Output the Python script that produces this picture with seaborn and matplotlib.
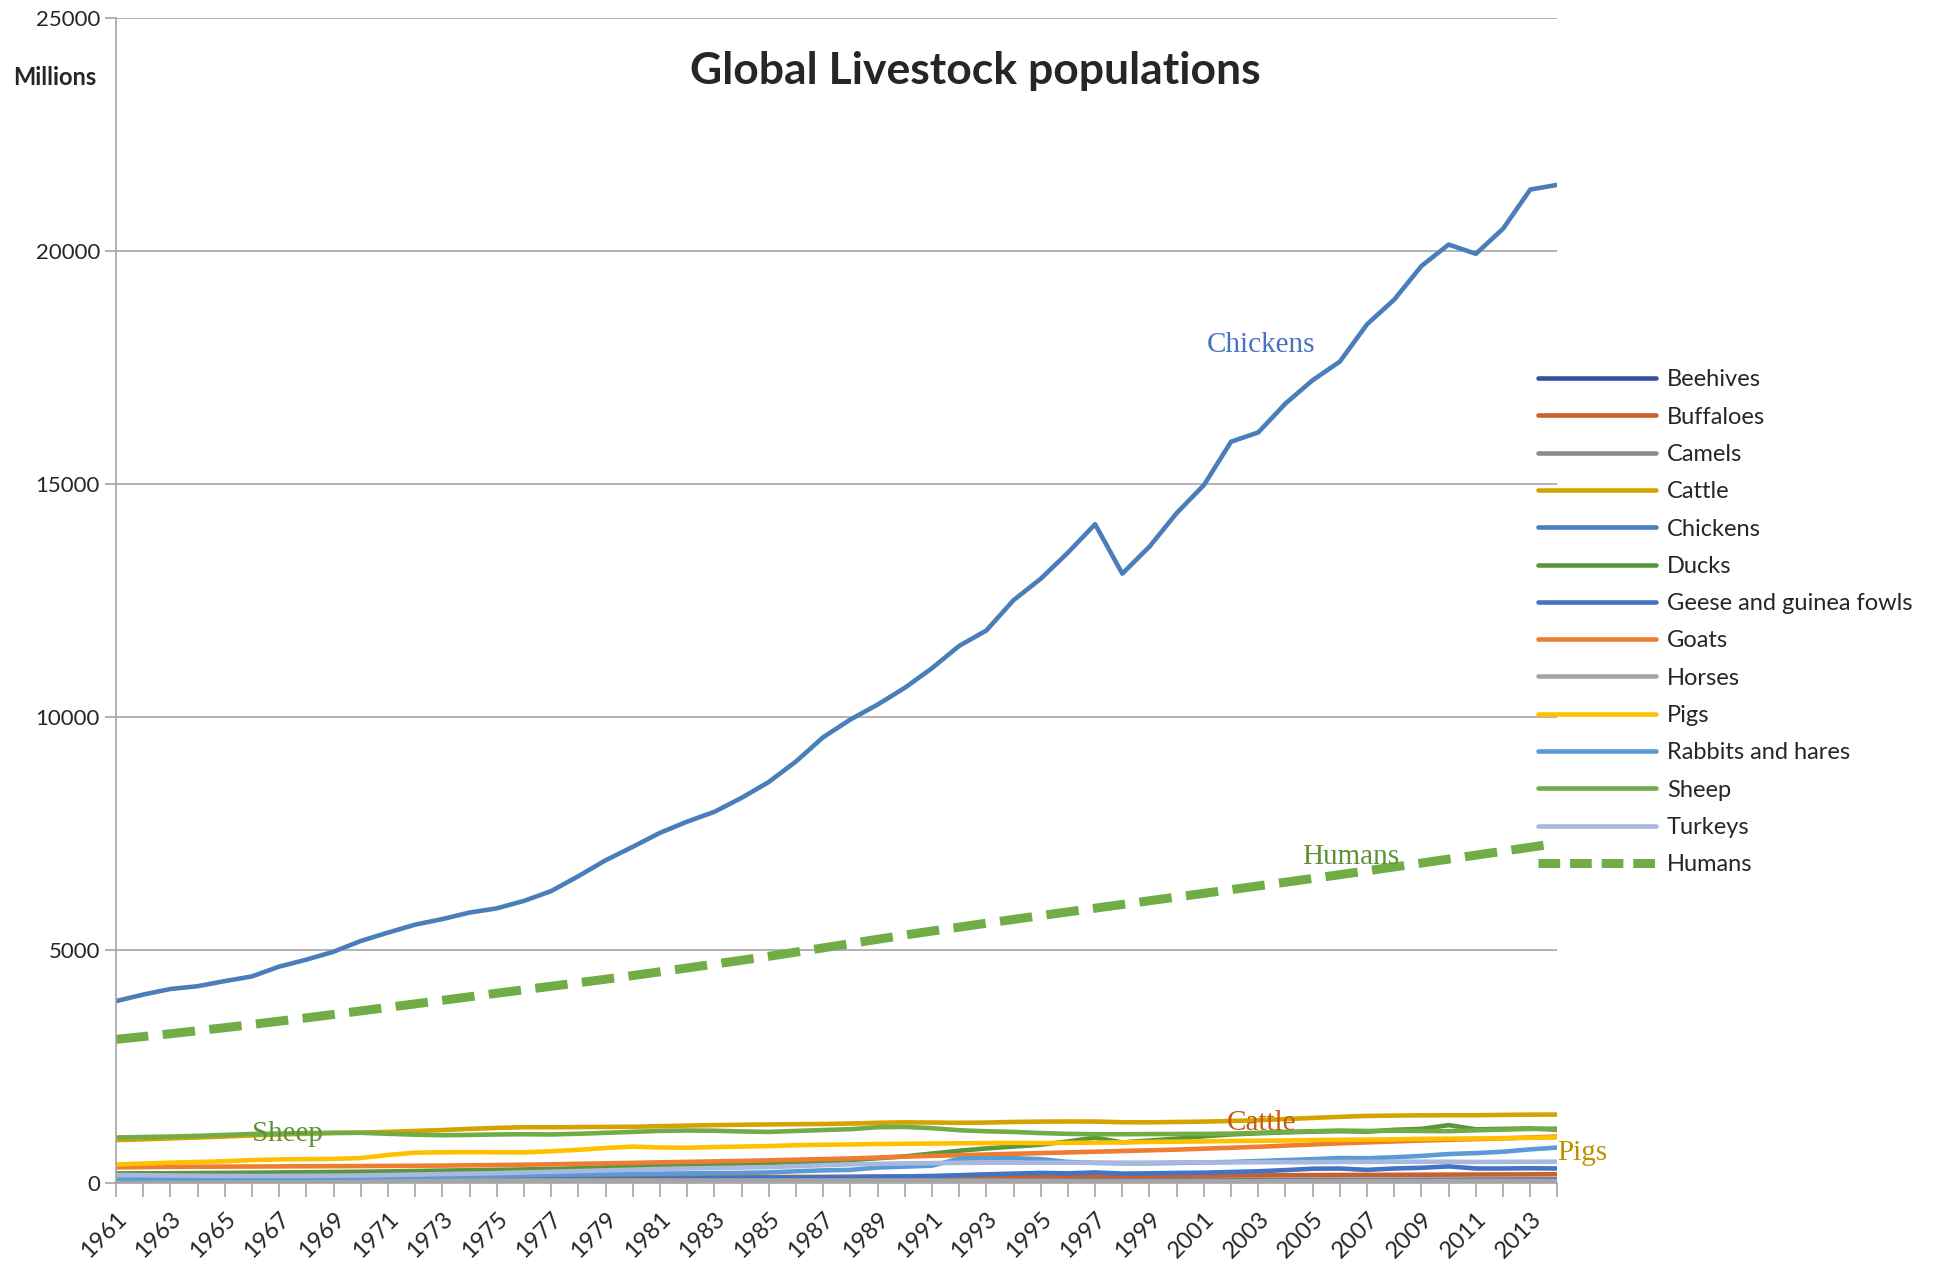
import matplotlib
matplotlib.use("Agg")
import matplotlib.pyplot as plt
import pandas as pd
import seaborn as sns

years = list(range(1961, 2015))

chickens = [3910, 4050, 4170, 4230, 4340, 4440, 4650, 4800, 4970, 5200,
            5380, 5550, 5670, 5810, 5900, 6060, 6270, 6590, 6930, 7220,
            7520, 7760, 7970, 8270, 8610, 9050, 9570, 9950, 10270, 10630,
            11050, 11530, 11860, 12510, 12970, 13530, 14140, 13080, 13660, 14380,
            14980, 15910, 16110, 16730, 17230, 17630, 18430, 18960, 19680, 20140,
            19940, 20480, 21320, 21420]
humans = [3090, 3150, 3210, 3275, 3340, 3410, 3480, 3550, 3625, 3700,
          3776, 3851, 3927, 4003, 4079, 4154, 4229, 4303, 4380, 4458,
          4539, 4621, 4704, 4787, 4871, 4961, 5052, 5144, 5236, 5327,
          5413, 5497, 5581, 5663, 5744, 5824, 5904, 5984, 6064, 6143,
          6222, 6301, 6381, 6461, 6542, 6623, 6705, 6789, 6872, 6957,
          7041, 7126, 7211, 7295]
cattle = [930, 945, 965, 985, 1005, 1030, 1050, 1065, 1080, 1090,
          1105, 1125, 1145, 1170, 1190, 1205, 1205, 1208, 1212, 1215,
          1228, 1240, 1250, 1258, 1265, 1270, 1275, 1284, 1300, 1310,
          1305, 1300, 1305, 1318, 1325, 1328, 1327, 1312, 1310, 1318,
          1325, 1340, 1355, 1380, 1405, 1428, 1448, 1455, 1460, 1462,
          1462, 1470, 1475, 1477]
sheep = [985, 995, 1005, 1020, 1040, 1060, 1070, 1080, 1085, 1085,
         1065, 1045, 1034, 1040, 1050, 1055, 1050, 1065, 1085, 1105,
         1127, 1135, 1130, 1115, 1105, 1125, 1145, 1163, 1205, 1213,
         1185, 1141, 1118, 1105, 1080, 1063, 1055, 1055, 1058, 1060,
         1062, 1068, 1084, 1105, 1120, 1134, 1125, 1130, 1125, 1120,
         1140, 1155, 1168, 1177]
pigs = [406, 425, 445, 460, 475, 500, 515, 520, 525, 545,
        610, 660, 668, 670, 668, 665, 690, 720, 760, 790,
        770, 765, 780, 790, 800, 820, 830, 835, 845, 850,
        855, 860, 865, 870, 865, 870, 875, 880, 890, 895,
        900, 910, 915, 920, 930, 935, 940, 945, 955, 960,
        965, 970, 978, 985]
goats = [345, 350, 355, 358, 360, 362, 365, 367, 370, 372,
         375, 378, 382, 388, 395, 402, 410, 420, 430, 440,
         452, 462, 472, 482, 495, 508, 522, 535, 555, 575,
         590, 605, 620, 635, 650, 665, 680, 695, 710, 725,
         745, 765, 785, 810, 835, 860, 880, 900, 920, 935,
         950, 965, 985, 1005]
ducks = [214, 216, 218, 222, 226, 230, 235, 240, 245, 250,
         258, 266, 275, 282, 290, 300, 310, 325, 345, 365,
         380, 395, 410, 425, 440, 455, 470, 500, 540, 580,
         640, 700, 750, 790, 830, 900, 980, 880, 920, 960,
         1010, 1050, 1075, 1095, 1110, 1120, 1110, 1150, 1170, 1250,
         1160, 1170, 1180, 1150]
rabbits = [107, 108, 110, 112, 115, 118, 120, 122, 125, 130,
           138, 145, 152, 160, 168, 175, 182, 190, 198, 205,
           210, 215, 220, 225, 235, 260, 280, 290, 340, 360,
           380, 530, 540, 540, 520, 460, 440, 430, 430, 440,
           450, 460, 480, 500, 520, 545, 540, 560, 590, 630,
           650, 680, 730, 770]
turkeys = [180, 175, 170, 165, 160, 160, 160, 162, 165, 170,
           180, 190, 200, 210, 220, 235, 250, 265, 280, 295,
           310, 320, 330, 340, 350, 370, 390, 410, 420, 430,
           435, 440, 445, 445, 445, 445, 445, 445, 445, 450,
           450, 450, 455, 455, 455, 460, 460, 465, 465, 465,
           460, 462, 464, 465]
geese = [40, 45, 48, 50, 52, 55, 58, 60, 62, 65,
         68, 70, 72, 75, 78, 80, 83, 86, 90, 95,
         100, 105, 110, 115, 120, 125, 130, 135, 145, 150,
         160, 175, 195, 210, 225, 215, 235, 210, 215, 225,
         230, 245, 260, 285, 315, 320, 290, 320, 335, 365,
         320, 320, 325, 320]
buffaloes = [88, 90, 92, 94, 96, 98, 100, 102, 104, 106,
             108, 110, 112, 114, 116, 118, 120, 122, 124, 126,
             128, 130, 132, 134, 136, 138, 140, 142, 144, 148,
             150, 152, 155, 157, 160, 162, 165, 160, 162, 165,
             167, 170, 172, 175, 178, 180, 182, 184, 186, 188,
             190, 192, 194, 196]
beehives = [49, 50, 51, 52, 53, 54, 55, 56, 57, 58,
            59, 60, 61, 62, 63, 64, 65, 66, 66, 67,
            67, 68, 68, 69, 69, 70, 70, 70, 71, 71,
            70, 69, 68, 68, 68, 69, 70, 70, 71, 71,
            72, 73, 74, 74, 75, 76, 76, 77, 78, 79,
            80, 81, 82, 83]
horses = [62, 62, 62, 63, 63, 63, 63, 62, 62, 62,
          62, 62, 62, 62, 62, 62, 61, 61, 61, 61,
          61, 61, 61, 61, 61, 61, 61, 61, 61, 61,
          61, 61, 60, 60, 59, 58, 57, 57, 57, 57,
          57, 57, 57, 57, 58, 58, 58, 58, 58, 59,
          59, 59, 59, 59]
camels = [13, 13, 13, 14, 14, 14, 14, 14, 15, 15,
          15, 15, 15, 16, 16, 16, 16, 16, 17, 17,
          17, 17, 17, 17, 17, 18, 18, 18, 18, 18,
          18, 18, 18, 19, 19, 19, 19, 19, 19, 19,
          20, 20, 20, 21, 21, 22, 23, 24, 25, 25,
          26, 26, 27, 27]

series_names = ["Beehives", "Buffaloes", "Camels", "Cattle", "Chickens", "Ducks",
                "Geese and guinea fowls", "Goats", "Horses", "Pigs",
                "Rabbits and hares", "Sheep", "Turkeys", "Humans"]
series_values = [beehives, buffaloes, camels, cattle, chickens, ducks,
                 geese, goats, horses, pigs, rabbits, sheep, turkeys, humans]
colours = ["#33509A", "#C8622A", "#8C8C8C", "#D4A300", "#4A7EBB", "#5A963A",
           "#4472C4", "#ED7D31", "#A5A5A5", "#FFC000", "#5B9BD5", "#70AD47",
           "#A9B8DF", "#70AD47"]

df = pd.DataFrame({"Year": years})
for name, vals in zip(series_names, series_values):
    df[name] = vals

sns.set_style("white")
plt.rcParams["font.family"] = ["Lato", "DejaVu Sans"]

fig = plt.figure(figsize=(19.42, 12.65), dpi=100)
ax = fig.add_axes([0.0597, 0.0645, 0.7423, 0.9213])

for name, col in zip(series_names, colours):
    if name == "Humans":
        sns.lineplot(data=df, x="Year", y=name, ax=ax, color=col, linewidth=6.5,
                     label=name)
        ax.lines[-1].set_dashes((3.6, 1.6))
    else:
        sns.lineplot(data=df, x="Year", y=name, ax=ax, color=col, linewidth=3.3,
                     label=name)

ax.set_xlim(1961, 2014)
ax.set_ylim(0, 25000)
ax.set_yticks(range(0, 25001, 5000))
ax.set_xticks(range(1961, 2015, 2))
ax.set_xticks(range(1961, 2015), minor=True)
ax.set_xticklabels([str(y) for y in range(1961, 2015, 2)], rotation=45,
                   ha="right", rotation_mode="anchor", fontsize=17)
ax.tick_params(axis="y", labelsize=16, length=8, width=1.2, color="#A6A6A6",
               direction="out", left=True)
ax.tick_params(axis="x", which="both", length=10, width=1.2, color="#A6A6A6",
               direction="out", bottom=True, pad=8)
ax.set_xlabel("")
ax.set_ylabel("")
ax.grid(axis="y", color="#A6A6A6", linewidth=1.2)
ax.set_axisbelow(True)
for side in ["top", "right"]:
    ax.spines[side].set_visible(False)
for side in ["left", "bottom"]:
    ax.spines[side].set_color("#A6A6A6")
    ax.spines[side].set_linewidth(1.2)

fig.text(0.502, 0.944, "Global Livestock populations", ha="center", va="center",
         fontsize=32, fontweight="bold")
fig.text(0.007, 0.939, "Millions", ha="left", va="center", fontsize=17,
         fontweight="bold")

serif = ["Liberation Serif", "DejaVu Serif"]
ax.text(2003.1, 17990, "Chickens", color="#4472C4", fontsize=21, family=serif,
        ha="center", va="center")
ax.text(2006.4, 7010, "Humans", color="#5E9236", fontsize=21, family=serif,
        ha="center", va="center")
ax.text(1967.3, 1050, "Sheep", color="#5E9236", fontsize=21, family=serif,
        ha="center", va="center")
ax.text(2003.1, 1300, "Cattle", color="#C55A11", fontsize=21, family=serif,
        ha="center", va="center")
ax.text(2014.9, 660, "Pigs", color="#BF9000", fontsize=21, family=serif,
        ha="center", va="center", clip_on=False)

leg = ax.legend(loc="upper left", bbox_to_anchor=(0.792, 0.708),
                bbox_transform=fig.transFigure, frameon=False, fontsize=17,
                handlelength=5.0, handletextpad=0.45, labelspacing=0.69,
                borderpad=0, borderaxespad=0)
leg.get_lines()[-1].set_dashes((2.4, 1.1))

fig.savefig("out.png", dpi=100)
